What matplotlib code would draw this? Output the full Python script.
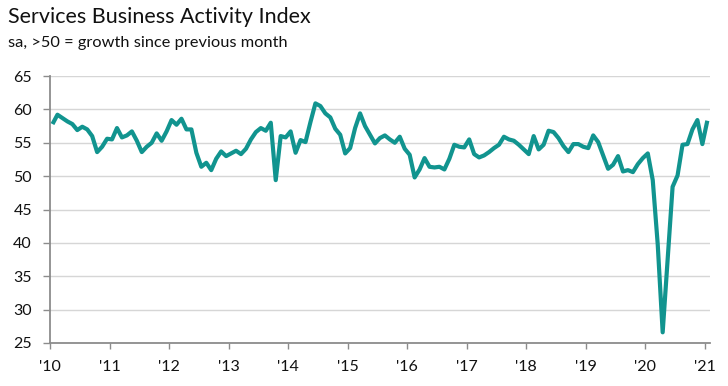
import matplotlib
matplotlib.use('Agg')
import matplotlib.pyplot as plt
import numpy as np

plt.rcParams['font.family'] = ['Lato', 'DejaVu Sans']

# ---------- Data (monthly, Jan 2010 - Jan 2021) ----------
TITLE = 'Services Business Activity Index'
SUBTITLE = 'sa, >50 = growth since previous month'

index_values = [
  57.8, 59.2, 58.7, 58.2, 57.8, 56.9, 57.4, 57.0, 56.0, 53.6, 54.4, 55.6,  # 2010
  55.5, 57.2, 55.8, 56.1, 56.7, 55.3, 53.6, 54.4, 55.0, 56.4, 55.3, 56.7,  # 2011
  58.4, 57.7, 58.6, 57.0, 57.0, 53.5, 51.4, 52.0, 50.9, 52.6, 53.7, 53.0,  # 2012
  53.4, 53.8, 53.3, 54.1, 55.5, 56.6, 57.2, 56.8, 58.0, 49.4, 56.0, 55.8,  # 2013
  56.7, 53.5, 55.4, 55.1, 58.1, 60.9, 60.5, 59.4, 58.8, 57.1, 56.2, 53.4,  # 2014
  54.2, 57.2, 59.4, 57.5, 56.2, 54.9, 55.7, 56.1, 55.5, 55.0, 55.9, 54.1,  # 2015
  53.2, 49.8, 51.0, 52.7, 51.4, 51.3, 51.4, 51.0, 52.6, 54.7, 54.4, 54.3,  # 2016
  55.5, 53.3, 52.8, 53.1, 53.6, 54.2, 54.7, 55.9, 55.5, 55.3, 54.7, 54.0,  # 2017
  53.3, 56.0, 54.0, 54.7, 56.8, 56.6, 55.7, 54.5, 53.6, 54.8, 54.8, 54.4,  # 2018
  54.2, 56.1, 55.1, 53.1, 51.1, 51.7, 53.0, 50.7, 50.9, 50.6, 51.8, 52.7,  # 2019
  53.4, 49.4, 39.8, 26.6, 37.4, 48.4, 50.1, 54.7, 54.8, 57.0, 58.4, 54.8,  # 2020
  58.3,                                                                    # 2021
]
year_labels = ["'10", "'11", "'12", "'13", "'14", "'15", "'16", "'17", "'18", "'19", "'20", "'21"]
y_ticks = [25, 30, 35, 40, 45, 50, 55, 60, 65]

LINE_COLOR = '#11948f'
GRID_COLOR = '#d6d6d6'
AXIS_COLOR = '#8c8c8c'


def plot_index():
  fig = plt.figure(figsize=(7.28, 3.86), dpi=100)
  ax = fig.add_axes([0.0687, 0.1114, 0.9063, 0.6917])

  # mid-month positions, months counted from Jan 2010
  months = np.arange(len(index_values)) + 0.5
  ax.plot(months, index_values, color=LINE_COLOR, lw=3.0, solid_joinstyle='round', solid_capstyle='butt', zorder=3)

  ax.set_xlim(0, 133)
  ax.set_ylim(25, 65)
  ax.set_xticks(np.arange(len(year_labels)) * 12)
  ax.set_xticklabels(year_labels)
  ax.set_yticks(y_ticks)

  ax.grid(axis='y', color=GRID_COLOR, lw=1.0)
  ax.set_axisbelow(True)
  for side in ['top', 'right']:
    ax.spines[side].set_visible(False)
  for side in ['left', 'bottom']:
    ax.spines[side].set_color(AXIS_COLOR)
    ax.spines[side].set_linewidth(1.3)

  ax.tick_params(axis='y', length=5, width=1.0, color=AXIS_COLOR, pad=8, labelsize=11.5, labelcolor='#111111')
  ax.tick_params(axis='x', length=4.5, width=1.0, color=AXIS_COLOR, pad=8, labelsize=11.5, labelcolor='#111111')

  fig.text(0.011, 0.940, TITLE, fontsize=15.5, color='#111111', va='baseline', ha='left')
  fig.text(0.011, 0.878, SUBTITLE, fontsize=11.8, color='#111111', va='baseline', ha='left')

  fig.savefig('out.png', dpi=100)
  plt.close(fig)


if __name__ == '__main__':
  plot_index()
